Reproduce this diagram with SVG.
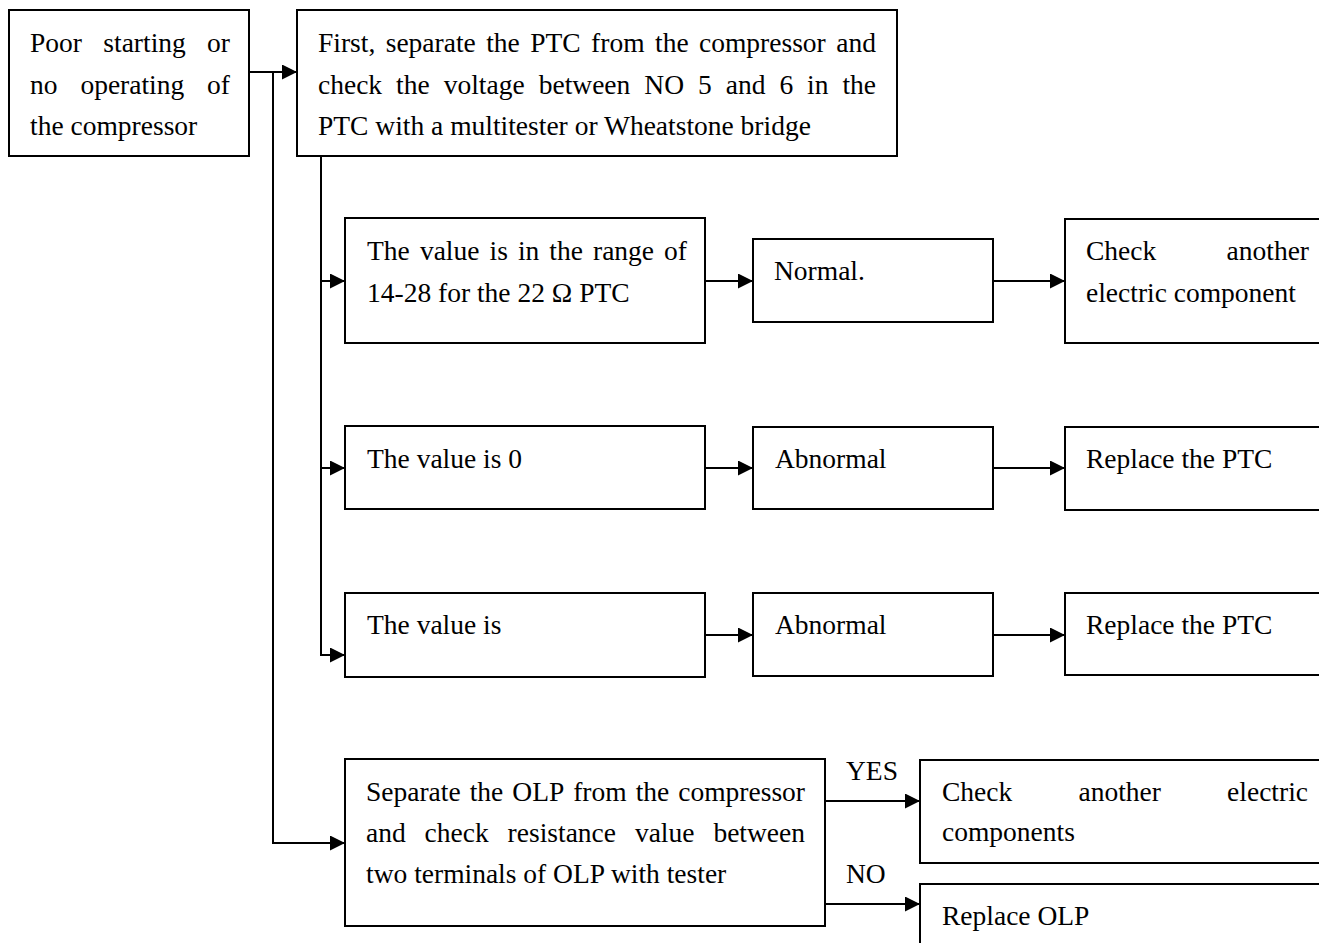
<svg xmlns="http://www.w3.org/2000/svg" width="1319" height="943" viewBox="0 0 1319 943">
<style>
rect{fill:#fff;stroke:#000;stroke-width:2}
text{font-family:"Liberation Serif","Times New Roman",serif;font-size:27.5px;fill:#000}
.e{text-anchor:end}
#connectors path{fill:none;stroke:#000;stroke-width:2}
</style>
<defs>
<marker id="ah" markerUnits="userSpaceOnUse" markerWidth="15" markerHeight="15" refX="15" refY="7.5" orient="auto">
<path d="M0,0 L15,7.5 L0,15 z" fill="#000"/>
</marker>
</defs>
<rect x="0" y="0" width="1319" height="943" style="stroke:none"/>
<g id="connectors">
<path d="M249,72 H297" marker-end="url(#ah)"/>
<path d="M273,72 V843 H345" marker-end="url(#ah)"/>
<path d="M321,156 V655 H345" marker-end="url(#ah)"/>
<path d="M321,281 H345" marker-end="url(#ah)"/>
<path d="M321,468 H345" marker-end="url(#ah)"/>
<path d="M705,281 H753" marker-end="url(#ah)"/>
<path d="M993,281 H1065" marker-end="url(#ah)"/>
<path d="M705,468 H753" marker-end="url(#ah)"/>
<path d="M993,468 H1065" marker-end="url(#ah)"/>
<path d="M705,635 H753" marker-end="url(#ah)"/>
<path d="M993,635 H1065" marker-end="url(#ah)"/>
<path d="M825,801 H920" marker-end="url(#ah)"/>
<path d="M825,904 H920" marker-end="url(#ah)"/>
<text x="846" y="780">YES</text>
<text x="846" y="883">NO</text>
</g>
<g id="start">
<rect x="9" y="10" width="240" height="146"/>
<text y="52"><tspan x="30">Poor</tspan><tspan x="103.3">starting</tspan></text>
<text class="e" x="230" y="52">or</text>
<text y="94"><tspan x="30">no</tspan><tspan x="80.4">operating</tspan></text>
<text class="e" x="230" y="94">of</text>
<text x="30" y="135">the compressor</text>
</g>
<g id="step1">
<rect x="297" y="10" width="600" height="146"/>
<text y="52"><tspan x="318">First,</tspan><tspan x="385.7">separate</tspan><tspan x="486.2">the</tspan><tspan x="530.2">PTC</tspan><tspan x="591.1">from</tspan><tspan x="655">the</tspan><tspan x="699">compressor</tspan></text>
<text class="e" x="876" y="52">and</text>
<text y="94"><tspan x="318">check</tspan><tspan x="396.1">the</tspan><tspan x="443.7">voltage</tspan><tspan x="538.7">between</tspan><tspan x="644.3">NO</tspan><tspan x="698">5</tspan><tspan x="725.7">and</tspan><tspan x="779.4">6</tspan><tspan x="807.1">in</tspan></text>
<text class="e" x="876" y="94">the</text>
<text x="318" y="135">PTC with a multitester or Wheatstone bridge</text>
</g>
<g id="rangeA">
<rect x="345" y="218" width="360" height="125"/>
<text y="260"><tspan x="367">The</tspan><tspan x="419.9">value</tspan><tspan x="489.5">is</tspan><tspan x="517.9">in</tspan><tspan x="549.3">the</tspan><tspan x="593">range</tspan></text>
<text class="e" x="687" y="260">of</text>
<text x="367" y="302">14-28 for the 22 Ω PTC</text>
</g>
<g id="normal">
<rect x="753" y="239" width="240" height="83"/>
<text x="774" y="280">Normal.</text>
</g>
<g id="checkA">
<rect x="1065" y="219" width="300" height="124"/>
<text x="1086" y="260">Check</text>
<text class="e" x="1309" y="260">another</text>
<text x="1086" y="302">electric component</text>
</g>
<g id="rangeB">
<rect x="345" y="426" width="360" height="83"/>
<text x="367" y="468">The value is 0</text>
</g>
<g id="abnormalB">
<rect x="753" y="427" width="240" height="82"/>
<text x="775" y="468">Abnormal</text>
</g>
<g id="replaceB">
<rect x="1065" y="427" width="300" height="83"/>
<text x="1086" y="468">Replace the PTC</text>
</g>
<g id="rangeC">
<rect x="345" y="593" width="360" height="84"/>
<text x="367" y="634">The value is</text>
</g>
<g id="abnormalC">
<rect x="753" y="593" width="240" height="83"/>
<text x="775" y="634">Abnormal</text>
</g>
<g id="replaceC">
<rect x="1065" y="593" width="300" height="82"/>
<text x="1086" y="634">Replace the PTC</text>
</g>
<g id="olp">
<rect x="345" y="759" width="480" height="167"/>
<text y="801"><tspan x="366">Separate</tspan><tspan x="469.7">the</tspan><tspan x="512.3">OLP</tspan><tspan x="573.2">from</tspan><tspan x="635.7">the</tspan></text>
<text class="e" x="805" y="801">compressor</text>
<text y="842"><tspan x="366">and</tspan><tspan x="424.6">check</tspan><tspan x="507.6">resistance</tspan><tspan x="634.9">value</tspan></text>
<text class="e" x="805" y="842">between</text>
<text x="366" y="883">two terminals of OLP with tester</text>
</g>
<g id="yes">
<rect x="920" y="760" width="450" height="103"/>
<text y="801"><tspan x="942">Check</tspan><tspan x="1078.5">another</tspan></text>
<text class="e" x="1308" y="801">electric</text>
<text x="942" y="841">components</text>
</g>
<g id="no">
<rect x="920" y="884" width="450" height="100"/>
<text x="942" y="925">Replace OLP</text>
</g>
</svg>
